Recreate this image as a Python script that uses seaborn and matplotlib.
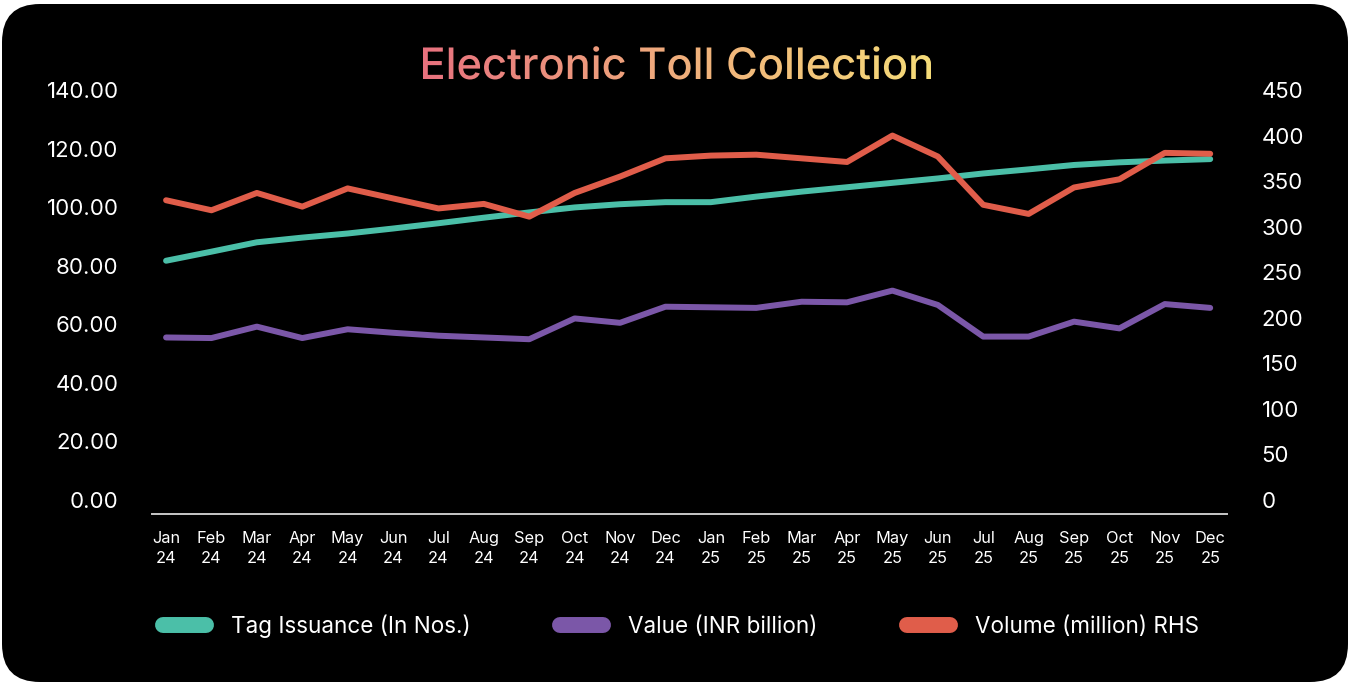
import numpy as np
import pandas as pd
import matplotlib
matplotlib.use("Agg")
import matplotlib.pyplot as plt
import seaborn as sns
from matplotlib.patches import FancyBboxPatch, PathPatch
from matplotlib.textpath import TextPath
from matplotlib.font_manager import FontProperties
from matplotlib.transforms import Affine2D
from matplotlib.colors import LinearSegmentedColormap
from matplotlib.lines import Line2D

# ---- data -------------------------------------------------------------
months = ["Jan\n24", "Feb\n24", "Mar\n24", "Apr\n24", "May\n24", "Jun\n24",
          "Jul\n24", "Aug\n24", "Sep\n24", "Oct\n24", "Nov\n24", "Dec\n24",
          "Jan\n25", "Feb\n25", "Mar\n25", "Apr\n25", "May\n25", "Jun\n25",
          "Jul\n25", "Aug\n25", "Sep\n25", "Oct\n25", "Nov\n25", "Dec\n25"]

tag_issuance = [81.7, 84.8, 88.0, 89.6, 91.0, 92.7, 94.5, 96.4, 98.2, 99.9,
                101.0, 101.7, 101.7, 103.6, 105.3, 106.8, 108.3, 109.8,
                111.5, 112.9, 114.4, 115.3, 115.9, 116.4]

value_inr_bn = [55.5, 55.3, 59.2, 55.3, 58.3, 57.1, 56.1, 55.5, 54.9, 62.0,
                60.5, 66.0, 65.8, 65.6, 67.7, 67.5, 71.5, 66.6,
                55.8, 55.8, 60.9, 58.6, 66.9, 65.6]

volume_mn = [329, 318, 337, 322, 342, 331, 320, 325, 311, 337,
             355, 375, 378, 379, 375, 371, 400, 377,
             324, 314, 343, 352, 381, 380]

left_ticks = [0, 20, 40, 60, 80, 100, 120, 140]
right_ticks = [0, 50, 100, 150, 200, 250, 300, 350, 400, 450]

series_names = ["Tag Issuance (In Nos.)", "Value (INR billion)", "Volume (million) RHS"]
series_colors = ["#4BBFA8", "#7B57A8", "#E05D4A"]

title_text = "Electronic Toll Collection"

df = pd.DataFrame({
    "idx": np.arange(len(months)),
    "tag": tag_issuance,
    "value": value_inr_bn,
    "volume": volume_mn,
})

# ---- style ------------------------------------------------------------
sns.set_theme(style="dark")
plt.rcParams["font.family"] = ["Inter", "DejaVu Sans"]
plt.rcParams["axes.facecolor"] = "none"

W, H = 1350, 684
fig = plt.figure(figsize=(W / 100, H / 100), dpi=100, facecolor="white")

# rounded black card behind everything
card = FancyBboxPatch((0.02, 0.02), 13.46, 6.78,
                      boxstyle="round,pad=0,rounding_size=0.38",
                      transform=fig.dpi_scale_trans, facecolor="black",
                      edgecolor="none", zorder=-10)
fig.patches.append(card)

ax = fig.add_axes([152 / W, 184 / H, 1075 / W, 410 / H])
ax.set_facecolor("none")
ax2 = ax.twinx()
ax2.set_facecolor("none")

lw = 4.3
sns.lineplot(data=df, x="idx", y="tag", ax=ax, color=series_colors[0], lw=lw)
sns.lineplot(data=df, x="idx", y="value", ax=ax, color=series_colors[1], lw=lw)
sns.lineplot(data=df, x="idx", y="volume", ax=ax2, color=series_colors[2], lw=lw)

ax.set_xlim(-0.31, 23.37)
ax.set_ylim(0, 140)
ax2.set_ylim(0, 450)

for a in (ax, ax2):
    a.set_xlabel("")
    a.set_ylabel("")
    a.grid(False)
    for s in a.spines.values():
        s.set_visible(False)

ax.spines["bottom"].set_visible(True)
ax.spines["bottom"].set_color("#C8C8C8")
ax.spines["bottom"].set_linewidth(1.4)
ax.spines["bottom"].set_position(("outward", 10))

ax.set_xticks(df["idx"])
ax.set_xticklabels(months, fontsize=11.8, color="white", linespacing=1.45)
ax.tick_params(axis="x", length=0, pad=12)

ax.set_yticks(left_ticks)
ax.set_yticklabels([f"{v:.2f}" for v in left_ticks], fontsize=16, color="white")
ax.tick_params(axis="y", length=0, pad=24)

ax2.set_yticks(right_ticks)
ax2.set_yticklabels([str(v) for v in right_ticks], fontsize=16, color="white")
ax2.tick_params(axis="y", length=0, pad=25)

# ---- legend -----------------------------------------------------------
handles = [Line2D([], [], color=c, lw=11.5, solid_capstyle="round")
           for c in series_colors]
leg = fig.legend(handles, series_names, loc="center",
                 bbox_to_anchor=(681 / W, 58 / H), ncol=3, frameon=False,
                 fontsize=16.2, labelcolor="white", handlelength=1.9,
                 handletextpad=1.1, columnspacing=4.0)

# ---- gradient title ---------------------------------------------------
tax = fig.add_axes([0, 0, 1, 1], zorder=5)
tax.set_axis_off()
tax.set_facecolor("none")

fp = FontProperties(family="Inter", weight="medium")
tp = TextPath((0, 0), title_text, size=1, prop=fp)
ext = tp.get_extents()
target_w = 508
scale = target_w / ext.width
cx, base_y = 677, H - 79
tx = cx - (ext.x0 + ext.width / 2) * scale
path = Affine2D().scale(scale).translate(tx, base_y).transform_path(tp)
patch = PathPatch(path, facecolor="none", edgecolor="none", transform=tax.transData)
tax.add_patch(patch)

bb = path.get_extents()
grad = np.linspace(0, 1, 256).reshape(1, -1)
cmap = LinearSegmentedColormap.from_list("title_grad", ["#E8727F", "#F0AE7C", "#F6DC79"])
im = tax.imshow(grad, extent=[bb.x0, bb.x1, bb.y0 - 2, bb.y1 + 2],
                aspect="auto", cmap=cmap, origin="lower", interpolation="bilinear")
im.set_clip_path(patch)
tax.set_xlim(0, W)
tax.set_ylim(0, H)

fig.savefig("out.png", dpi=100, facecolor="white")
